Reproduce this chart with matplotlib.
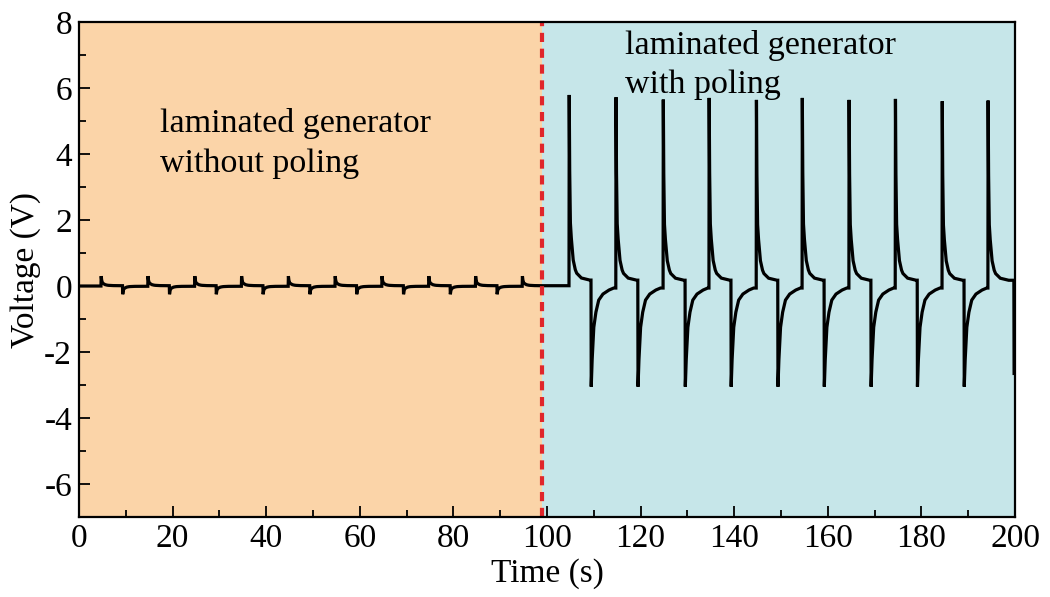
import matplotlib
matplotlib.use("Agg")
import matplotlib.pyplot as plt
import numpy as np

plt.rcParams['font.family'] = ['Liberation Serif', 'DejaVu Serif']
plt.rcParams['axes.unicode_minus'] = False

############   DATA   ####################################
# small pulses, laminated generator without poling
small_pos_t = [4.7, 14.7, 24.7, 34.7, 44.7, 54.7, 64.7, 74.7, 84.7, 94.7]
small_pos_v = [0.30, 0.30, 0.30, 0.30, 0.30, 0.30, 0.30, 0.30, 0.30, 0.30]
small_neg_t = [9.3, 19.3, 29.3, 39.3, 49.3, 59.3, 69.3, 79.3, 89.3]
small_neg_v = [-0.25, -0.25, -0.25, -0.25, -0.25, -0.25, -0.25, -0.25, -0.25]

# large pulses, laminated generator with poling (last one cut by end of record)
big_pos_t = [104.7, 114.7, 124.8, 134.6, 144.7, 154.5, 164.5, 174.4, 184.4, 194.2]
big_pos_v = [5.79, 5.72, 5.65, 5.70, 5.64, 5.70, 5.64, 5.67, 5.60, 5.62]
big_neg_t = [109.4, 119.4, 129.5, 139.3, 149.3, 159.2, 169.2, 179.1, 189.1, 199.75]
big_neg_v = [-3.05, -3.05, -3.05, -3.05, -3.05, -3.05, -3.05, -3.05, -3.05, -2.65]
record_end = 199.85

# decay after a pulse: (seconds after peak, fraction of peak)
pos_decay_dt = [0.0, 0.1, 0.25, 0.45, 0.85, 1.3, 1.6, 2.6, 4.4]
pos_decay_f = [1.0, 0.6, 0.33, 0.25, 0.136, 0.085, 0.067, 0.042, 0.031]
neg_decay_dt = [0.0, 0.2, 0.55, 1.0, 1.6, 2.5, 3.8, 4.8]
neg_decay_f = [1.0, 0.73, 0.41, 0.26, 0.14, 0.08, 0.04, 0.02]

split_t = 99.0

#--- build the trace ---
events = []
for t, v in zip(small_pos_t + big_pos_t, small_pos_v + big_pos_v):
    events.append((t, v, pos_decay_dt, pos_decay_f))
for t, v in zip(small_neg_t, small_neg_v):
    events.append((t, v, pos_decay_dt, pos_decay_f))
for t, v in zip(big_neg_t, big_neg_v):
    events.append((t, v, neg_decay_dt, neg_decay_f))
events.sort(key=lambda e: e[0])

time = [0.0]
volt = [0.0]
for t, v, dts, fs in events:
    time.append(t)
    volt.append(volt[-1])
    for dt, f in zip(dts, fs):
        time.append(t + 0.05 + dt)
        volt.append(v * f)
time = np.array(time)
volt = np.array(volt)
keep = time <= record_end
time = time[keep]
volt = volt[keep]

#--- plot ---
fig = plt.figure(figsize=(10.5, 5.97), dpi=100)
ax = fig.add_axes([0.0752, 0.134, 0.8915, 0.8291])

ax.axvspan(0, split_t, color="#FBD4A8", lw=0)
ax.axvspan(split_t, 200, color="#C6E6E9", lw=0)
ax.plot(time, volt, color="black", lw=2.3, solid_joinstyle="miter")
ax.axvline(split_t, color="#E0262B", lw=3, ls=(0, (2.2, 1.6)))

ax.text(17.3, 5.4, "laminated generator\nwithout poling", fontsize=24.5,
        va="top", ha="left", linespacing=1.4)
ax.text(116.7, 7.75, "laminated generator\nwith poling", fontsize=24.5,
        va="top", ha="left", linespacing=1.35)

ax.set_xlim(0, 200)
ax.set_ylim(-7, 8)
ax.set_xticks(np.arange(0, 201, 20))
ax.set_xticks(np.arange(10, 200, 20), minor=True)
ax.set_yticks(np.arange(-6, 9, 2))
ax.set_yticks(np.arange(-7, 8, 2), minor=True)
ax.tick_params(which="both", direction="in", top=False, right=False, width=1.3,
               labelsize=24, pad=5)
ax.tick_params(which="major", length=8)
ax.tick_params(which="minor", length=5)
for s in ax.spines.values():
    s.set_linewidth(1.6)

ax.set_xlabel("Time (s)", fontsize=24, labelpad=3)
ax.set_ylabel("Voltage (V)", fontsize=24, labelpad=2)

fig.savefig("out.png", dpi=100)
